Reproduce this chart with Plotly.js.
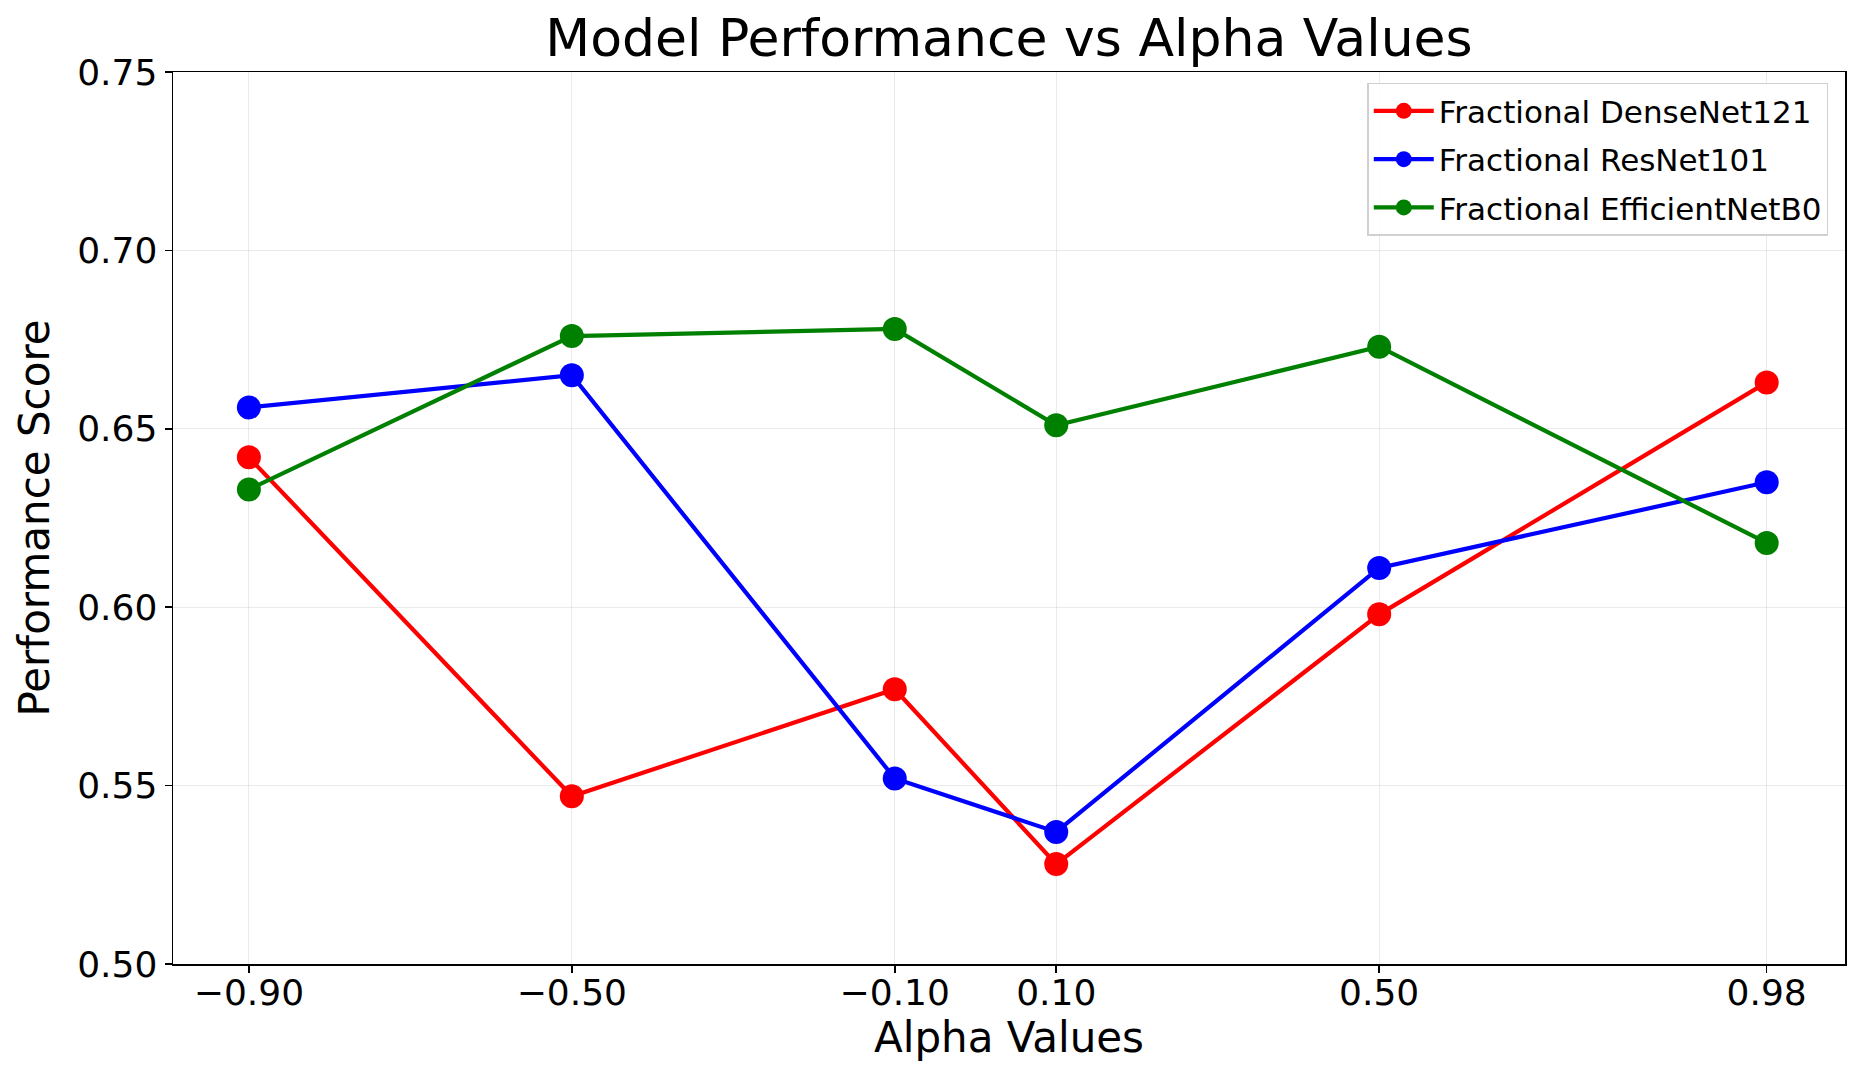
<!DOCTYPE html>
<html>
<head>
<meta charset="utf-8">
<script src="https://cdn.plot.ly/plotly-3.0.1.min.js"></script>
<style>
  html, body { margin: 0; padding: 0; background: #fff; }
  #chart { width: 1865px; height: 1078px; }
</style>
</head>
<body>
<div id="chart"></div>
<script>
// alpha values on the x axis
var alphaValues = [-0.90, -0.50, -0.10, 0.10, 0.50, 0.98];
var alphaLabels = ["\u22120.90", "\u22120.50", "\u22120.10", "0.10", "0.50", "0.98"];

// scores
var denseNetScores = [0.642, 0.547, 0.577, 0.528, 0.598, 0.663];
var resNetScores = [0.656, 0.665, 0.552, 0.537, 0.611, 0.635];
var efficientNetScores = [0.633, 0.676, 0.678, 0.651, 0.673, 0.618];

var scoreTicks = [0.50, 0.55, 0.60, 0.65, 0.70, 0.75];

var FONT = "DejaVu Sans, sans-serif";

function makeTrace(name, scores, color)
{
        return {
                x: alphaValues,
                y: scores,
                name: name,
                legendgroup: name,
                mode: "lines+markers",
                type: "scatter",
                line: { color: color, width: 4.2 },
                marker: { color: color, size: 24 }
        };
}

var data = [
        makeTrace("Fractional DenseNet121", denseNetScores, "#ff0000"),
        makeTrace("Fractional ResNet101", resNetScores, "#0000ff"),
        makeTrace("Fractional EfficientNetB0", efficientNetScores, "#008000")
];

var layout = {
        width: 1865,
        height: 1078,
        paper_bgcolor: "#ffffff",
        plot_bgcolor: "#ffffff",
        margin: { l: 173, r: 20, t: 72, b: 114 },
        font: { family: FONT, color: "#000000" },
        title: {
                text: "Model Performance vs Alpha Values",
                font: { family: FONT, size: 52, color: "#000000" },
                x: 0.5,
                xref: "paper",
                xanchor: "center",
                y: 0.965,
                yref: "container",
                yanchor: "middle"
        },
        xaxis: {
                range: [-0.994, 1.077],
                tickvals: alphaValues,
                ticktext: alphaLabels,
                tickfont: { family: FONT, size: 36, color: "#000000" },
                ticks: "outside",
                ticklen: 7,
                tickwidth: 1.5,
                tickcolor: "#000000",
                ticklabelstandoff: -11,
                showgrid: true,
                gridcolor: "rgba(0,0,0,0.08)",
                gridwidth: 1,
                zeroline: false,
                showline: true,
                linecolor: "#000000",
                linewidth: 1.5,
                mirror: true,
                title: {
                        text: "Alpha Values",
                        font: { family: FONT, size: 42, color: "#000000" },
                        standoff: 10
                }
        },
        yaxis: {
                range: [0.50, 0.75],
                tickvals: scoreTicks,
                ticktext: scoreTicks.map(function (v) { return v.toFixed(2); }),
                tickfont: { family: FONT, size: 36, color: "#000000" },
                ticks: "outside",
                ticklen: 7,
                tickwidth: 1.5,
                tickcolor: "#000000",
                showgrid: true,
                gridcolor: "rgba(0,0,0,0.08)",
                gridwidth: 1,
                zeroline: false,
                showline: true,
                linecolor: "#000000",
                linewidth: 1.5,
                mirror: true,
                title: {
                        text: "Performance Score",
                        font: { family: FONT, size: 42, color: "#000000" },
                        standoff: 14
                }
        },
        legend: {
                x: 0.99,
                y: 0.988,
                xanchor: "right",
                yanchor: "top",
                bgcolor: "rgba(255,255,255,0.9)",
                bordercolor: "#d0d0d0",
                borderwidth: 1.5,
                font: { family: FONT, size: 31, color: "#000000" },
                itemwidth: 60,
                tracegroupgap: 5
        },
        showlegend: true
};

Plotly.newPlot("chart", data, layout, { displayModeBar: false, staticPlot: true });
</script>
</body>
</html>
